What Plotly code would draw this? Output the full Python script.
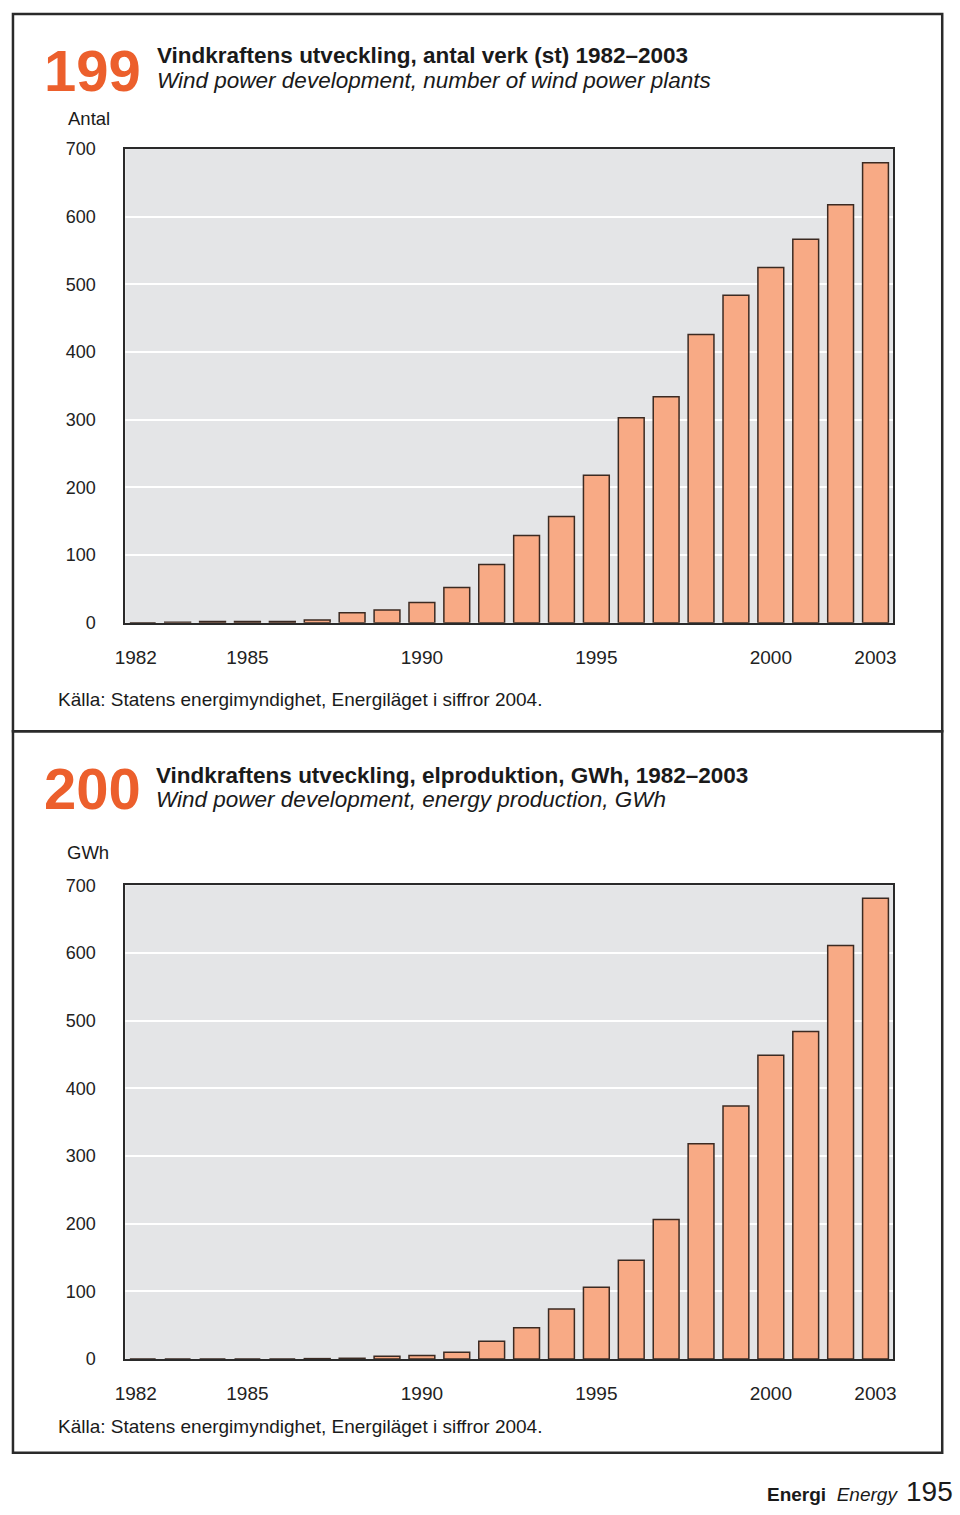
import plotly.graph_objects as go

W, H = 960, 1515

years = list(range(1982, 2004))
plants = [0, 1, 2, 2, 2, 4, 15, 19, 30, 52, 86, 129, 157, 218, 303, 334, 426, 484, 525, 567, 618, 680]
gwh = [0, 0, 0, 0, 0, 0.5, 1, 4, 5, 10, 26, 46, 74, 106, 146, 206, 318, 374, 449, 484, 611, 681]
xtick_labels = ["1982", "1985", "1990", "1995", "2000", "2003"]
xtick_pos = [1981.8, 1985, 1990, 1995, 2000, 2003]
ytick_vals = [0, 100, 200, 300, 400, 500, 600, 700]

FONT = "Liberation Sans, Arial, Helvetica, sans-serif"
BAR_FILL = "#f8aa85"
BAR_LINE = "#3b2a22"
ORANGE = "#ec5f2c"

def px_x(p):
    return p / W

def px_y(p):
    return 1 - p / H

fig = go.Figure()
fig.add_trace(go.Bar(x=years, y=plants, marker=dict(color=BAR_FILL, line=dict(color=BAR_LINE, width=1.5)),
                     width=0.74, xaxis="x", yaxis="y", showlegend=False))
fig.add_trace(go.Bar(x=years, y=gwh, marker=dict(color=BAR_FILL, line=dict(color=BAR_LINE, width=1.5)),
                     width=0.74, xaxis="x2", yaxis="y2", showlegend=False))

xdom = [px_x(116), px_x(895)]
axis_common_x = dict(range=[1981.5, 2003.5], tickvals=xtick_pos, ticktext=xtick_labels,
                     showgrid=False, zeroline=False, showline=True, mirror=True, linecolor="#2a2a2a",
                     linewidth=2, ticks="", tickfont=dict(family=FONT, size=19, color="#222"),
                     ticklabelstandoff=16, fixedrange=True)
axis_common_y = dict(range=[0, 700], tickvals=ytick_vals, showgrid=True, gridcolor="#ffffff", gridwidth=1.5,
                     zeroline=False, showline=True, mirror=True, linecolor="#2a2a2a", linewidth=2,
                     ticks="", tickfont=dict(family=FONT, size=18, color="#222"), ticklabelstandoff=24,
                     fixedrange=True)

fig.update_layout(
    width=W, height=H,
    margin=dict(l=0, r=0, t=0, b=0),
    paper_bgcolor="white",
    plot_bgcolor="#e4e5e7",
    barmode="overlay",
    xaxis=dict(domain=xdom, anchor="y", **axis_common_x),
    yaxis=dict(domain=[px_y(621), px_y(141)], anchor="x", **axis_common_y),
    xaxis2=dict(domain=xdom, anchor="y2", **axis_common_x),
    yaxis2=dict(domain=[px_y(1367), px_y(887)], anchor="x2", **axis_common_y),
)

# panel frames
fig.add_shape(type="rect", xref="paper", yref="paper", x0=px_x(2), x1=px_x(945), y0=px_y(731), y1=px_y(4),
              line=dict(color="#2a2a2a", width=2.5), layer="below")
fig.add_shape(type="rect", xref="paper", yref="paper", x0=px_x(2), x1=px_x(945), y0=px_y(1462), y1=px_y(731),
              line=dict(color="#2a2a2a", width=2.5), layer="below")

def ann(text, x, y, size, color="#1a1a1a", xanchor="left", yanchor="middle"):
    fig.add_annotation(text=text, x=px_x(x), y=px_y(y), xref="paper", yref="paper", showarrow=False,
                       xanchor=xanchor, yanchor=yanchor, font=dict(family=FONT, size=size, color=color))

# top chart texts
ann("<b>199</b>", 31, 61, 58, ORANGE)
ann("<b>Vindkraftens utveckling, antal verk (st) 1982–2003</b>", 146, 46, 22.5)
ann("<i>Wind power development, number of wind power plants</i>", 146, 71, 22.5)
ann("Antal", 56, 110, 18.5)
ann("Källa: Statens energimyndighet, Energiläget i siffror 2004.", 46, 699, 19)

# bottom chart texts
ann("<b>200</b>", 31, 789, 58, ORANGE)
ann("<b>Vindkraftens utveckling, elproduktion, GWh, 1982–2003</b>", 145, 776, 22.5)
ann("<i>Wind power development, energy production, GWh</i>", 145, 800, 22.5)
ann("GWh", 55, 854, 18.5)
ann("Källa: Statens energimyndighet, Energiläget i siffror 2004.", 46, 1435, 19)

# footer
ann("<b>Energi</b>  <i>Energy</i>", 765, 1504, 19)
ann("195", 958, 1501, 28, xanchor="right")

fig.write_html("out.html")
